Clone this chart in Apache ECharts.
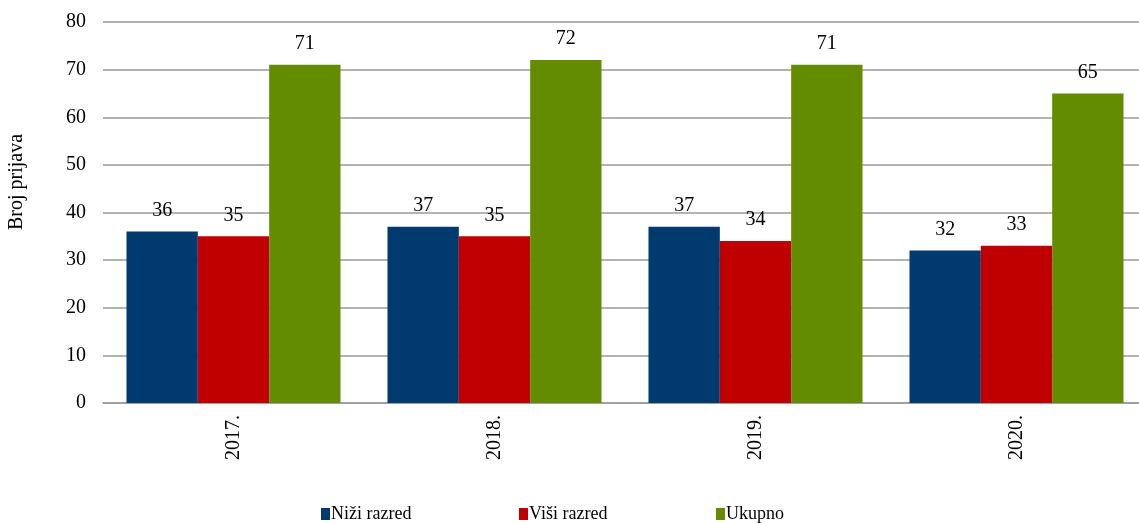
<!DOCTYPE html>
<html><head><meta charset="utf-8">
<script src="https://cdn.jsdelivr.net/npm/echarts@6/dist/echarts.min.js"></script>
<style>html,body{margin:0;padding:0;background:#fff}#c{width:1139px;height:523px}</style>
</head><body><div id="c"></div>
<script>
const categories = ['2017.', '2018.', '2019.', '2020.'];
const nizi = [36, 37, 37, 32];
const visi = [35, 35, 34, 33];
const ukupno = [71, 72, 71, 65];
const seriesNames = ['Niži razred', 'Viši razred', 'Ukupno'];
const colors = ['#003A6E', '#C00000', '#638C00'];
const yTicks = {min: 0, max: 80, interval: 10};

const font = 'Liberation Serif';
const chart = echarts.init(document.getElementById('c'), null, {renderer: 'canvas'});
const lbl = {show: true, position: 'top', distance: 11, color: '#000', fontFamily: font, fontSize: 20};
const legendBase = {top: 500, itemWidth: 9, itemHeight: 12, icon: 'rect', itemGap: 3,
  textStyle: {fontFamily: font, fontSize: 18, color: '#000', padding: [0,0,0,-4]}};
chart.setOption({
  animation: false,
  color: colors,
  grid: {left: 103, top: 22, width: 1044, height: 381, containLabel: false, outerBoundsMode: 'none'},
  legend: [
    Object.assign({}, legendBase, {left: 316, data: [seriesNames[0]]}),
    Object.assign({}, legendBase, {left: 514, data: [seriesNames[1]]}),
    Object.assign({}, legendBase, {left: 711, data: [seriesNames[2]]})
  ],
  graphic: [{type: 'text', x: 17, y: 182, rotation: Math.PI/2, style: {text: 'Broj prijava', fontFamily: font, fontSize: 20, fill: '#000', align: 'center', verticalAlign: 'middle'}}],
  xAxis: {type: 'category', data: categories,
    axisLine: {lineStyle: {color: '#9a9a9a', width: 1.5}}, axisTick: {show: false},
    axisLabel: {rotate: 90, margin: 12, fontFamily: font, fontSize: 20, color: '#000'}},
  yAxis: {type: 'value', min: yTicks.min, max: yTicks.max, interval: yTicks.interval,
    axisLine: {show: false}, axisTick: {show: false},
    splitLine: {lineStyle: {color: '#9a9a9a', width: 1.5}},
    axisLabel: {margin: 17, fontFamily: font, fontSize: 20, color: '#000'}},
  series: [
    {name: seriesNames[0], type: 'bar', data: nizi, barGap: '0%', barCategoryGap: '18%', label: lbl},
    {name: seriesNames[1], type: 'bar', data: visi, barGap: '0%', barCategoryGap: '18%', label: lbl},
    {name: seriesNames[2], type: 'bar', data: ukupno, barGap: '0%', barCategoryGap: '18%', label: lbl}
  ]
});
</script></body></html>
